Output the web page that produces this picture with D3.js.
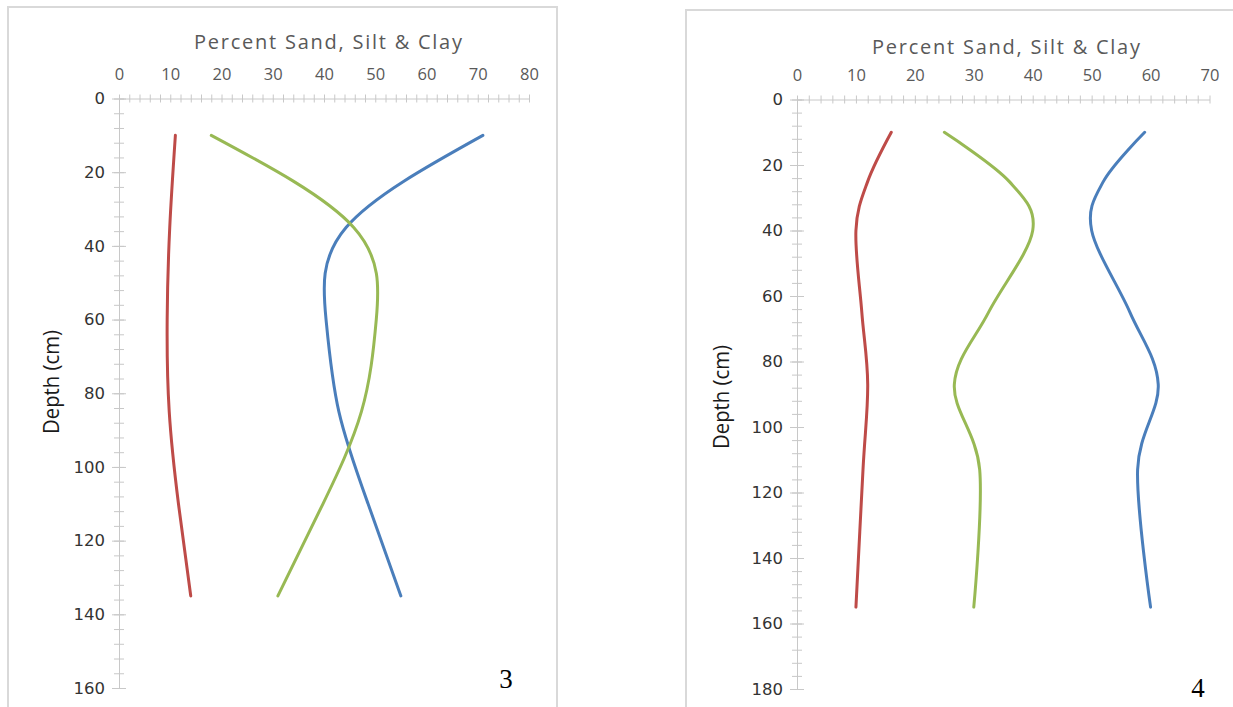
<!DOCTYPE html>
<html>
<head>
<meta charset="utf-8">
<script src="https://cdn.jsdelivr.net/npm/d3@7"></script>
<style>
  body { margin: 0; background: #fff; }
  svg { display: block; }
</style>
</head>
<body>
<svg id="chart" width="1233" height="707"></svg>
<script>
// profile 3
const depth3 = [10, 35, 60, 85, 110, 135];
const sand3 = [71, 44.3, 40.4, 42.9, 48.6, 55];
const silt3 = [18, 45.8, 50.2, 47.3, 39.8, 31];
const clay3 = [11, 9.9, 9.4, 9.8, 11.6, 14];

// profile 4
const depth4 = [10, 25, 40, 65, 87, 113, 155];
const sand4 = [59, 52, 50, 56.5, 61.3, 57.8, 60];
const silt4 = [25, 36, 40, 32.5, 26.7, 31, 30];
const clay4 = [16, 12, 10, 11, 12, 11.2, 10];

const xTicks3 = [0, 10, 20, 30, 40, 50, 60, 70, 80];
const yTicks3 = [0, 20, 40, 60, 80, 100, 120, 140, 160];
const xTicks4 = [0, 10, 20, 30, 40, 50, 60, 70];
const yTicks4 = [0, 20, 40, 60, 80, 100, 120, 140, 160, 180];

const titleText = "Percent Sand, Silt & Clay";
const depthText = "Depth (cm)";

const colors = { sand: "#4a7ebb", clay: "#be4b48", silt: "#98b954" };

const svg = d3.select("#chart");
svg.append("rect").attr("width", 1233).attr("height", 707).attr("fill", "#fff");

function drawPanel(cfg) {
  const g = svg.append("g");

  // panel frame
  g.append("rect")
    .attr("x", cfg.box[0]).attr("y", cfg.box[1])
    .attr("width", cfg.box[2] - cfg.box[0]).attr("height", cfg.box[3] - cfg.box[1])
    .attr("fill", "none").attr("stroke", "#d9d9d9").attr("stroke-width", 2);

  const x = d3.scaleLinear().domain([0, d3.max(cfg.xTicks)]).range([cfg.xRange[0], cfg.xRange[1]]);
  const y = d3.scaleLinear().domain([0, d3.max(cfg.yTicks)]).range([cfg.yRange[0], cfg.yRange[1]]);

  // minor ticks on x (every 2)
  const xMinor = g.append("g")
    .attr("transform", `translate(0,${y(0)})`)
    .call(d3.axisTop(x).tickValues(d3.range(0, d3.max(cfg.xTicks) + 0.1, 2)).tickFormat("").tickSizeOuter(0));
  xMinor.selectAll(".tick line").attr("y1", -4).attr("y2", 4).attr("stroke", "#c8c8c8");
  xMinor.select(".domain").attr("stroke", "#c8c8c8");

  // x labels
  const xAxis = g.append("g")
    .attr("transform", `translate(0,${y(0)})`)
    .call(d3.axisTop(x).tickValues(cfg.xTicks).tickSize(0).tickFormat(d3.format("d")));
  xAxis.select(".domain").remove();
  xAxis.selectAll("text")
    .attr("y", -19)
    .attr("font-family", "Open Sans, sans-serif")
    .attr("font-size", 16.5)
    .attr("fill", "#595959");

  // minor ticks on y (every 4)
  const yMinor = g.append("g")
    .attr("transform", `translate(${x(0)},0)`)
    .call(d3.axisLeft(y).tickValues(d3.range(0, d3.max(cfg.yTicks) + 0.1, 4)).tickFormat("").tickSizeOuter(0));
  yMinor.selectAll(".tick line").attr("x1", -5).attr("x2", 5).attr("stroke", "#c8c8c8");
  yMinor.select(".domain").attr("stroke", "#c8c8c8");

  const yAxis = g.append("g")
    .attr("transform", `translate(${x(0)},0)`)
    .call(d3.axisLeft(y).tickValues(cfg.yTicks).tickSize(0).tickPadding(14));
  yAxis.select(".domain").remove();
  yAxis.selectAll(".tick").append("line")
    .attr("x1", -7).attr("x2", 7).attr("stroke", "#c8c8c8");
  yAxis.selectAll("text")
    .attr("font-family", "DejaVu Sans, sans-serif")
    .attr("font-size", 16.5)
    .attr("fill", "#333");

  // title and axis label
  g.append("text")
    .attr("x", cfg.titlePos[0]).attr("y", cfg.titlePos[1])
    .attr("text-anchor", "middle")
    .attr("font-family", "Open Sans, sans-serif")
    .attr("font-size", 20)
    .attr("textLength", 268).attr("lengthAdjust", "spacing")
    .attr("fill", "#595959")
    .text(titleText);

  g.append("text")
    .attr("transform", `translate(${cfg.depthPos[0]},${cfg.depthPos[1]}) rotate(-90)`)
    .attr("text-anchor", "middle")
    .attr("font-family", "Open Sans, sans-serif")
    .attr("font-size", 22)
    .attr("textLength", 104).attr("lengthAdjust", "spacingAndGlyphs")
    .attr("fill", "#1a1a1a")
    .text(depthText);

  // profiles
  const line = d3.line()
    .x(d => x(d[0]))
    .y(d => y(d[1]))
    .curve(cfg.curve);

  cfg.series.forEach(s => {
    g.append("path")
      .datum(s.values.map((v, i) => [v, cfg.depth[i]]))
      .attr("fill", "none")
      .attr("stroke", s.color)
      .attr("stroke-width", 3)
      .attr("stroke-linecap", "round")
      .attr("d", line);
  });

  g.append("text")
    .attr("x", cfg.numPos[0]).attr("y", cfg.numPos[1])
    .attr("text-anchor", "middle")
    .attr("font-family", "Liberation Serif, serif")
    .attr("font-size", 27)
    .attr("fill", "#000")
    .text(cfg.num);
}

drawPanel({
  box: [8, 7, 557, 720],
  xRange: [119, 529], yRange: [98.5, 688],
  xTicks: xTicks3, yTicks: yTicks3,
  titlePos: [328, 49], depthPos: [59, 382], numPos: [506, 688],
  depth: depth3, num: "3",
  curve: d3.curveNatural,
  series: [
    { values: sand3, color: colors.sand },
    { values: clay3, color: colors.clay },
    { values: silt3, color: colors.silt }
  ]
});

drawPanel({
  box: [686, 10, 1245, 720],
  xRange: [797, 1209.5], yRange: [99.5, 689],
  xTicks: xTicks4, yTicks: yTicks4,
  titlePos: [1006, 54], depthPos: [729, 397], numPos: [1198, 697],
  depth: depth4, num: "4",
  curve: d3.curveCardinal.tension(0),
  series: [
    { values: sand4, color: colors.sand },
    { values: clay4, color: colors.clay },
    { values: silt4, color: colors.silt }
  ]
});
</script>
</body>
</html>
